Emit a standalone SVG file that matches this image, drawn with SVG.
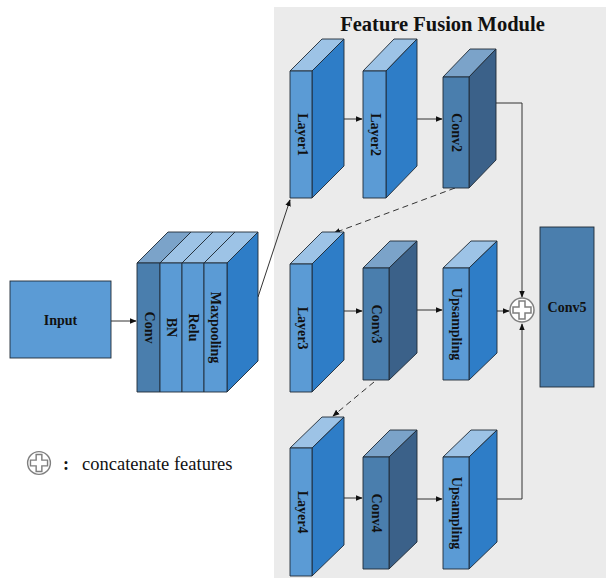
<svg xmlns="http://www.w3.org/2000/svg" width="606" height="578" viewBox="0 0 606 578">
  <defs>
    <style>
      .edge { stroke: #1f2a36; stroke-width: 0.9; stroke-linejoin: round; }
      .lf { fill: #5b9bd5; }
      .ls { fill: #2e7dc7; }
      .lt { fill: #9dc3e6; }
      .df { fill: #4a7ead; }
      .ds { fill: #3b6189; }
      .dt { fill: #7ba3c9; }
      .lbl { font-family: "Liberation Serif", "Times New Roman", serif; font-weight: bold; font-size: 14px; fill: #111; }
      .wire { stroke: #333; stroke-width: 1; fill: none; }
      .dash { stroke: #333; stroke-width: 1; fill: none; stroke-dasharray: 6 4; }
    </style>
    <marker id="arr" viewBox="0 0 10 10" refX="9" refY="5" markerWidth="7" markerHeight="7" orient="auto-start-reverse" markerUnits="userSpaceOnUse">
      <path d="M0,1 L10,5 L0,9 z" fill="#111"/>
    </marker>
    <!-- concatenation symbol: circle with outlined plus -->
    <g id="concat">
      <circle r="12" fill="#fff" stroke="#7f7f7f" stroke-width="1.5"/>
      <path d="M-3,-9 H3 V-3 H9 V3 H3 V9 H-3 V3 H-9 V-3 H-3 Z" fill="#fff" stroke="#7f7f7f" stroke-width="1.5"/>
    </g>
  </defs>

  <!-- module background -->
  <rect x="274" y="7" width="332" height="571" fill="#ebebeb"/>
  <text x="442.5" y="31" text-anchor="middle" font-family="Liberation Serif, 'Times New Roman', serif" font-weight="bold" font-size="20.5" fill="#111">Feature Fusion Module</text>

  <!-- connectors -->
  <g id="connectors">
    <line class="wire" x1="111" y1="321" x2="136" y2="321" marker-end="url(#arr)"/>
    <line class="wire" x1="258" y1="297" x2="290" y2="200" marker-end="url(#arr)"/>
    <line class="wire" x1="344" y1="119" x2="362" y2="119" marker-end="url(#arr)"/>
    <line class="wire" x1="417" y1="119" x2="442" y2="119" marker-end="url(#arr)"/>
    <polyline class="wire" points="496,103 522,103 522,297" marker-end="url(#arr)"/>
    <line class="dash" x1="455" y1="188" x2="334" y2="233" marker-end="url(#arr)"/>
    <line class="wire" x1="344" y1="311" x2="362" y2="311" marker-end="url(#arr)"/>
    <line class="wire" x1="417" y1="310" x2="442" y2="310" marker-end="url(#arr)"/>
    <line class="wire" x1="497" y1="311" x2="509" y2="311" marker-end="url(#arr)"/>
    <line class="dash" x1="374" y1="382" x2="333" y2="416" marker-end="url(#arr)"/>
    <line class="wire" x1="344" y1="498" x2="362" y2="498" marker-end="url(#arr)"/>
    <line class="wire" x1="417" y1="499" x2="442" y2="499" marker-end="url(#arr)"/>
    <polyline class="wire" points="497,499 522,499 522,324" marker-end="url(#arr)"/>
  </g>

  <!-- input -->
  <g id="input">
    <rect x="10" y="281" width="101" height="77" fill="#5b9bd5" stroke="#1f2a36" stroke-width="0.9"/>
    <text class="lbl" x="60.5" y="320" text-anchor="middle" dominant-baseline="central">Input</text>
  </g>

  <!-- stem block: conv / bn / relu / maxpooling -->
  <g id="stem">
    <polygon class="ls edge" points="227,263 258,232 258,361 227,392"/>
    <polygon class="dt edge" points="137,263 168,232 191,232 160,263"/>
    <polygon class="lt edge" points="160,263 191,232 213,232 182,263"/>
    <polygon class="lt edge" points="182,263 213,232 235,232 204,263"/>
    <polygon class="lt edge" points="204,263 235,232 258,232 227,263"/>
    <rect class="df edge" x="137" y="263" width="23" height="129"/>
    <rect class="lf edge" x="160" y="263" width="22" height="129"/>
    <rect class="lf edge" x="182" y="263" width="22" height="129"/>
    <rect class="lf edge" x="204" y="263" width="23" height="129"/>
    <text class="lbl" transform="translate(149,327.5) rotate(90)" text-anchor="middle" dominant-baseline="central">Conv</text>
    <text class="lbl" transform="translate(171,327.5) rotate(90)" text-anchor="middle" dominant-baseline="central">BN</text>
    <text class="lbl" transform="translate(193,327.5) rotate(90)" text-anchor="middle" dominant-baseline="central">Relu</text>
    <text class="lbl" transform="translate(215.5,327.5) rotate(90)" text-anchor="middle" dominant-baseline="central">Maxpooling</text>
  </g>

  <!-- row 1 -->
  <g id="layer1">
    <polygon class="lt edge" points="290,71 322,39 344,39 312,71"/>
    <polygon class="ls edge" points="312,71 344,39 344,166 312,198"/>
    <rect class="lf edge" x="290" y="71" width="22" height="127"/>
    <text class="lbl" transform="translate(302,134.5) rotate(90)" text-anchor="middle" dominant-baseline="central">Layer1</text>
  </g>
  <g id="layer2">
    <polygon class="lt edge" points="363,71 394,39 417,39 386,71"/>
    <polygon class="ls edge" points="386,71 417,39 417,166 386,198"/>
    <rect class="lf edge" x="363" y="71" width="23" height="127"/>
    <text class="lbl" transform="translate(375,134.5) rotate(90)" text-anchor="middle" dominant-baseline="central" font-size="12">Layer2</text>
  </g>
  <g id="conv2">
    <polygon class="dt edge" points="443,77 470,49 496,49 469,77"/>
    <polygon class="ds edge" points="469,77 496,49 496,160 469,188"/>
    <rect class="df edge" x="443" y="77" width="26" height="111"/>
    <text class="lbl" transform="translate(456,132.5) rotate(90)" text-anchor="middle" dominant-baseline="central">Conv2</text>
  </g>

  <!-- row 2 -->
  <g id="layer3">
    <polygon class="lt edge" points="290,264 322,232 344,232 312,264"/>
    <polygon class="ls edge" points="312,264 344,232 344,360 312,392"/>
    <rect class="lf edge" x="290" y="264" width="22" height="128"/>
    <text class="lbl" transform="translate(302,328) rotate(90)" text-anchor="middle" dominant-baseline="central">Layer3</text>
  </g>
  <g id="conv3">
    <polygon class="dt edge" points="363,268 390,241 417,241 389,268"/>
    <polygon class="ds edge" points="389,268 417,241 417,353 389,380"/>
    <rect class="df edge" x="363" y="268" width="26" height="112"/>
    <text class="lbl" transform="translate(376,324) rotate(90)" text-anchor="middle" dominant-baseline="central">Conv3</text>
  </g>
  <g id="upsampling1">
    <polygon class="lt edge" points="443,268 471,241 497,241 469,268"/>
    <polygon class="ls edge" points="469,268 497,241 497,353 469,380"/>
    <rect class="lf edge" x="443" y="268" width="26" height="112"/>
    <text class="lbl" transform="translate(456,324) rotate(90)" text-anchor="middle" dominant-baseline="central">Upsampling</text>
  </g>

  <!-- row 3 -->
  <g id="layer4">
    <polygon class="lt edge" points="290,448 322,417 344,417 312,448"/>
    <polygon class="ls edge" points="312,448 344,417 344,545 312,576"/>
    <rect class="lf edge" x="290" y="448" width="22" height="128"/>
    <text class="lbl" transform="translate(302,512) rotate(90)" text-anchor="middle" dominant-baseline="central">Layer4</text>
  </g>
  <g id="conv4">
    <polygon class="dt edge" points="363,457 390,430 417,430 389,457"/>
    <polygon class="ds edge" points="389,457 417,430 417,542 389,569"/>
    <rect class="df edge" x="363" y="457" width="26" height="112"/>
    <text class="lbl" transform="translate(376,513) rotate(90)" text-anchor="middle" dominant-baseline="central">Conv4</text>
  </g>
  <g id="upsampling2">
    <polygon class="lt edge" points="443,457 471,430 497,430 469,457"/>
    <polygon class="ls edge" points="469,457 497,430 497,542 469,569"/>
    <rect class="lf edge" x="443" y="457" width="26" height="112"/>
    <text class="lbl" transform="translate(456,513) rotate(90)" text-anchor="middle" dominant-baseline="central">Upsampling</text>
  </g>

  <!-- concatenation node -->
  <g id="concat-node">
    <use href="#concat" x="522" y="310"/>
  </g>

  <!-- output conv -->
  <g id="conv5">
    <rect x="540" y="227" width="54" height="160" fill="#4a7ead" stroke="#1f2a36" stroke-width="0.9"/>
    <text class="lbl" x="567" y="307" text-anchor="middle" dominant-baseline="central">Conv5</text>
  </g>

  <!-- legend -->
  <g id="legend">
    <use href="#concat" transform="translate(39,463) scale(0.95)"/>
    <text x="63" y="470" font-family="Liberation Serif, 'Times New Roman', serif" font-weight="bold" font-size="18" fill="#111">:</text>
    <text x="82" y="470" font-family="Liberation Serif, 'Times New Roman', serif" font-size="18.5" fill="#111">concatenate features</text>
  </g>
</svg>
